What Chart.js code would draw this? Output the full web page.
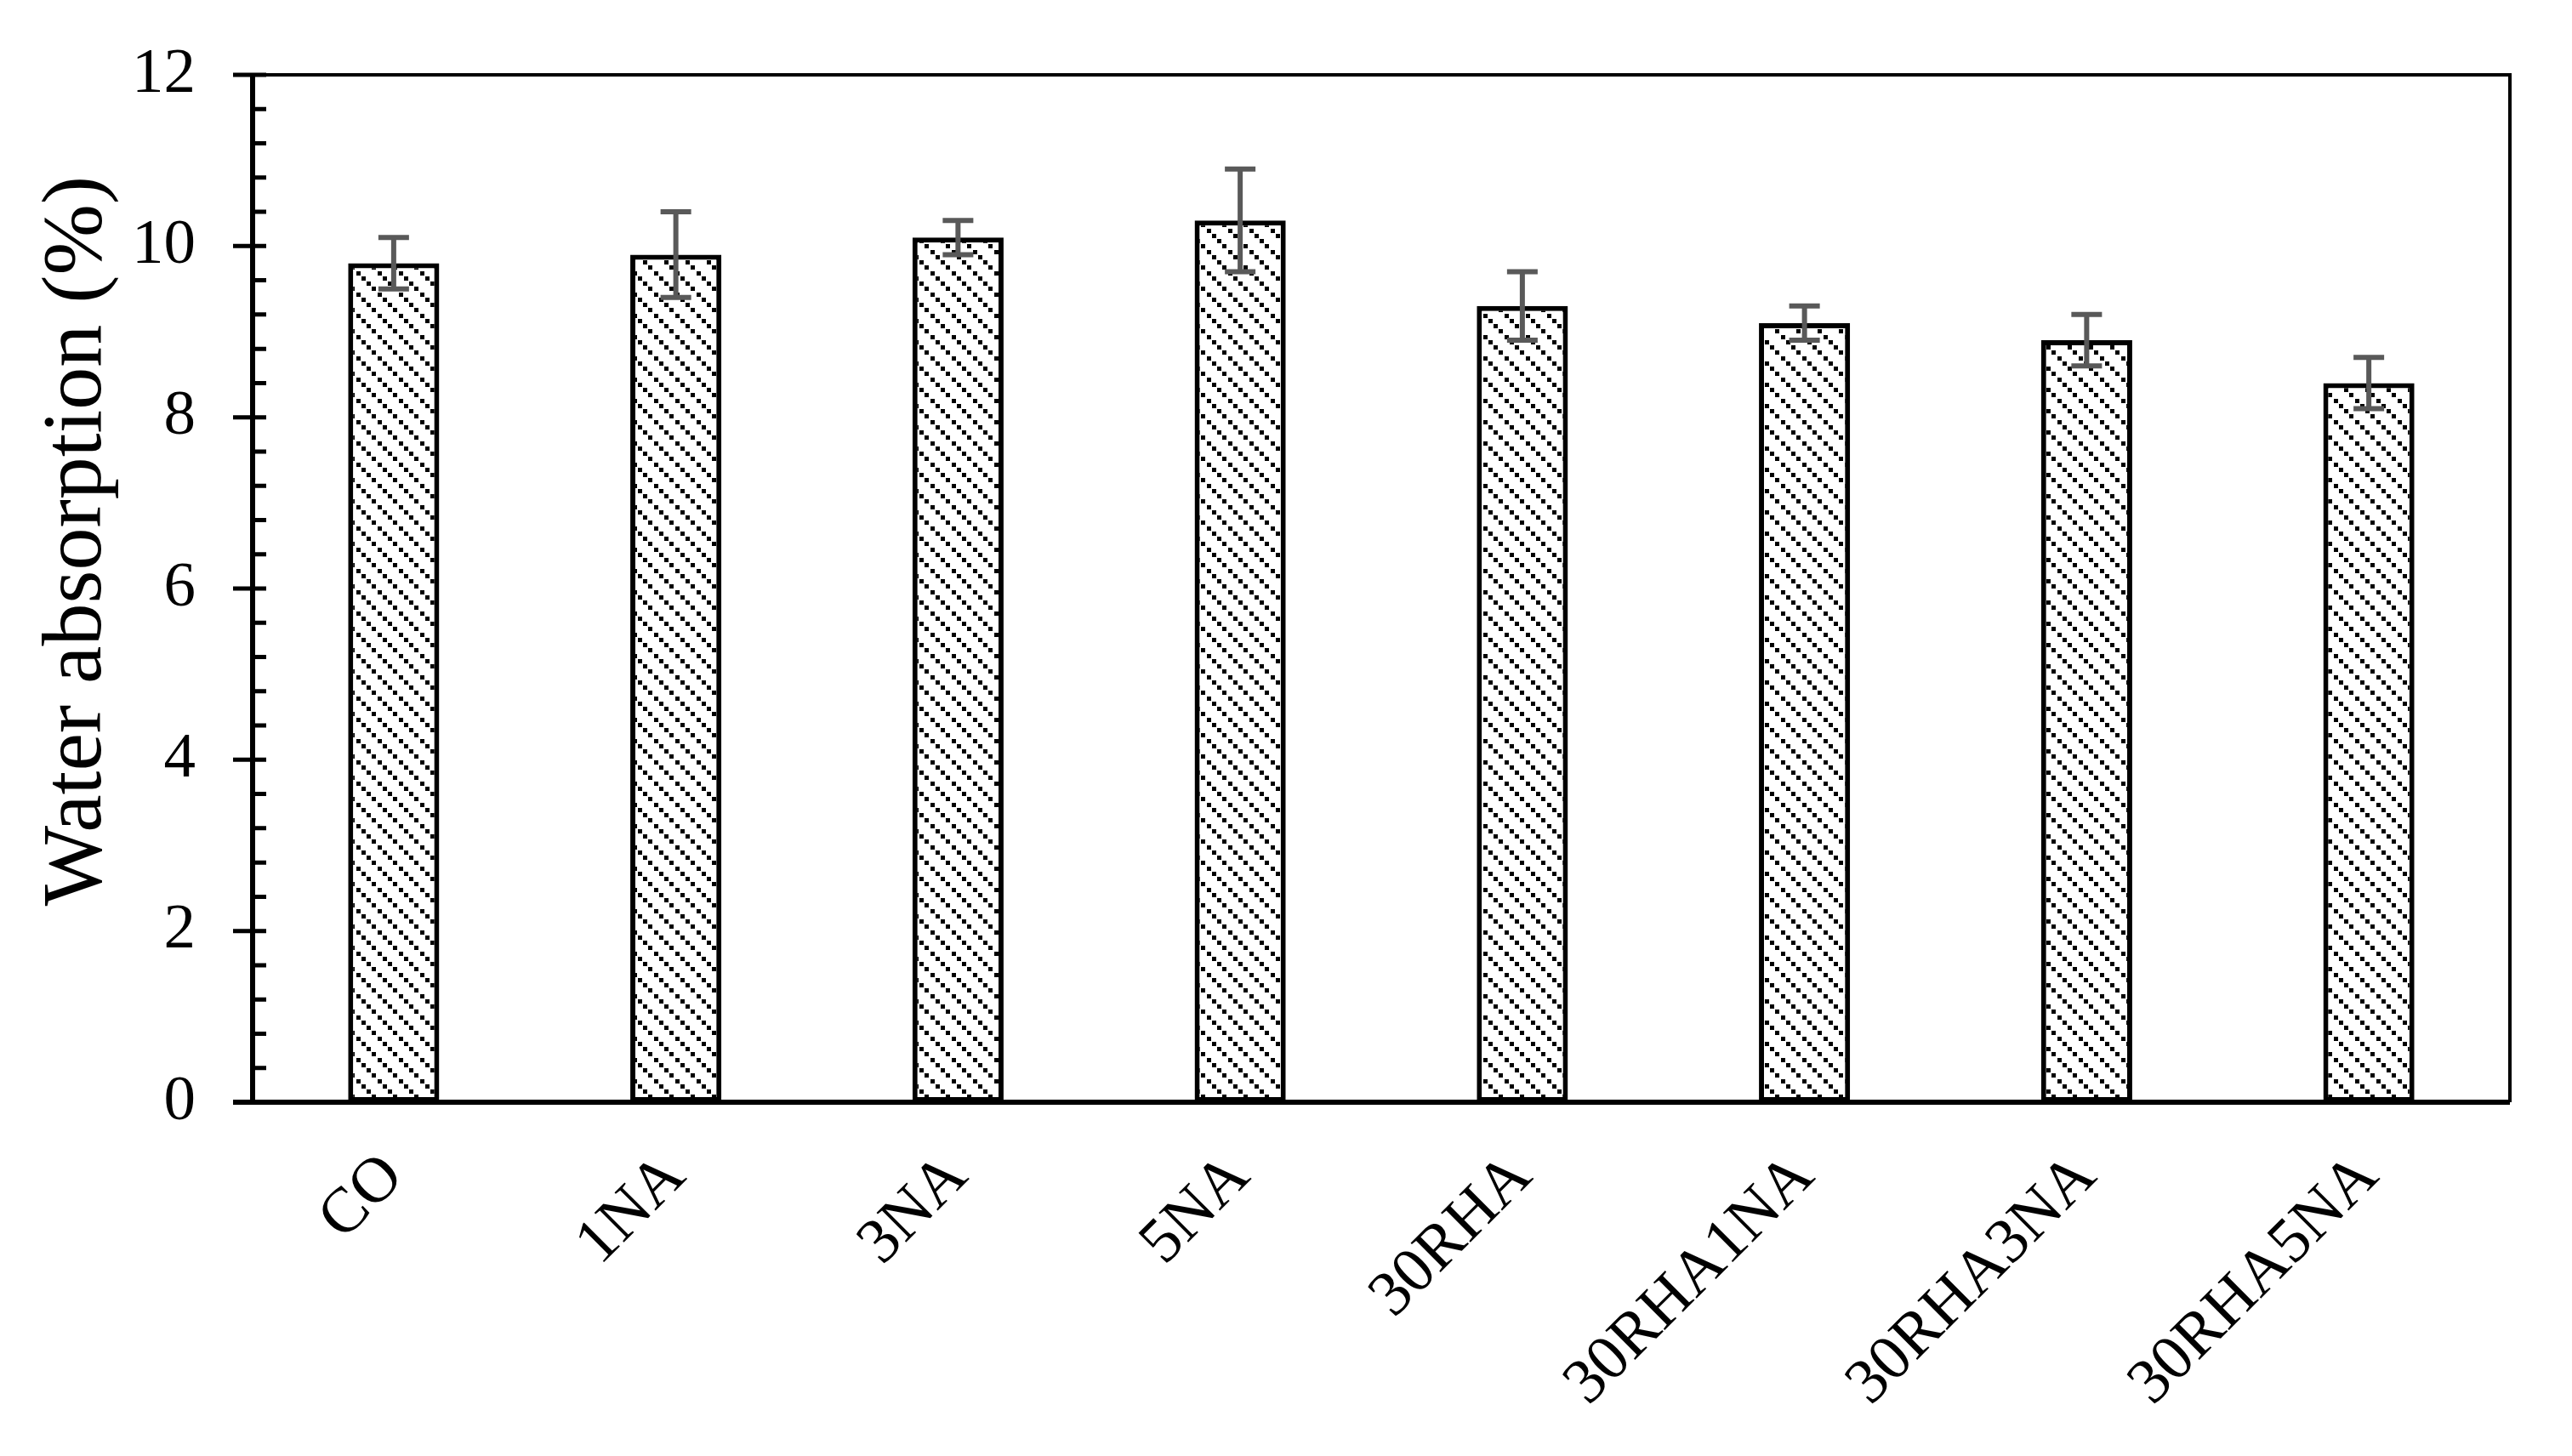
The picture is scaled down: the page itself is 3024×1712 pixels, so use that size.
<!DOCTYPE html>
<html>
<head>
<meta charset="utf-8">
<title>Water absorption</title>
<script src="https://cdn.jsdelivr.net/npm/chart.js@4.4.1/dist/chart.umd.min.js"></script>
<style>
    html, body { margin: 0; padding: 0; background: #ffffff; }
    #wrap { width: 3024px; height: 1712px; position: relative; }
</style>
</head>
<body>
<div id="wrap"><canvas id="bar-chart-absorption"></canvas></div>
<script>
const categories = ["CO", "1NA", "3NA", "5NA", "30RHA", "30RHA1NA", "30RHA3NA", "30RHA5NA"];
const absorption = [9.8, 9.9, 10.1, 10.3, 9.3, 9.1, 8.9, 8.4];
const absorptionError = [0.3, 0.5, 0.2, 0.6, 0.4, 0.2, 0.3, 0.3];
const yTickValues = [0, 2, 4, 6, 8, 10, 12];
const yMinorStep = 0.4;
const yTitle = "Water absorption (%)";

(function () {
    const serif = '"Liberation Serif", "Times New Roman", serif';

    function MakeHatch() {
        // dotted downward diagonal, like the office pattern fill
        let tile = document.createElement("canvas");
        tile.width = 25;
        tile.height = 25;
        let c = tile.getContext("2d");
        c.fillStyle = "#ffffff";
        c.fillRect(0, 0, 25, 25);
        c.fillStyle = "#000000";
        [0, 6, 12, 19].forEach(function (p) {
            c.fillRect(p, p, 5, 5);
        });
        return c.createPattern(tile, "repeat");
    }

    let errorBars = {
        id: "errorBars",
        afterDatasetsDraw: function (chart) {
            let ctx = chart.ctx;
            let y = chart.scales.y;
            let meta = chart.getDatasetMeta(0);
            ctx.save();
            ctx.strokeStyle = "#595959";
            ctx.lineWidth = 6;
            meta.data.forEach(function (bar, i) {
                let top = y.getPixelForValue(absorption[i] + absorptionError[i]);
                let bottom = y.getPixelForValue(absorption[i] - absorptionError[i]);
                ctx.beginPath();
                ctx.moveTo(bar.x, top);
                ctx.lineTo(bar.x, bottom);
                ctx.moveTo(bar.x - 18, top);
                ctx.lineTo(bar.x + 18, top);
                ctx.moveTo(bar.x - 18, bottom);
                ctx.lineTo(bar.x + 18, bottom);
                ctx.stroke();
            });
            ctx.restore();
        }
    }

    let frame = {
        id: "frame",
        afterDraw: function (chart) {
            let ctx = chart.ctx;
            let area = chart.chartArea;
            let y = chart.scales.y;
            ctx.save();
            ctx.strokeStyle = "#000000";

            // top and right border
            ctx.lineWidth = 4;
            ctx.beginPath();
            ctx.moveTo(area.left, area.top);
            ctx.lineTo(area.right, area.top);
            ctx.lineTo(area.right, area.bottom);
            ctx.stroke();

            // axes
            ctx.lineWidth = 6;
            ctx.beginPath();
            ctx.moveTo(area.left, area.top);
            ctx.lineTo(area.left, area.bottom);
            ctx.moveTo(area.left - 23, area.bottom);
            ctx.lineTo(area.right, area.bottom);
            ctx.stroke();

            // major ticks cross the axis, minor ticks point inside
            ctx.lineWidth = 5;
            ctx.beginPath();
            yTickValues.forEach(function (v) {
                let py = y.getPixelForValue(v);
                ctx.moveTo(area.left - 23, py);
                ctx.lineTo(area.left + 16, py);
            });
            for (let v = 0; v <= y.max + 1e-9; v += yMinorStep) {
                let py = y.getPixelForValue(v);
                ctx.moveTo(area.left, py);
                ctx.lineTo(area.left + 16, py);
            }
            ctx.stroke();

            // y axis title
            ctx.fillStyle = "#000000";
            ctx.font = "100px " + serif;
            ctx.textAlign = "center";
            ctx.textBaseline = "middle";
            ctx.translate(92, 636);
            ctx.rotate(-Math.PI / 2);
            ctx.fillText(yTitle, 0, 0);
            ctx.restore();
        }
    }

    function GenerateChart() {
        new Chart(document.getElementById("bar-chart-absorption"), {
            type: "bar",
            data: {
                labels: categories,
                datasets: [
                    {
                        label: "Water absorption",
                        data: absorption,
                        backgroundColor: MakeHatch(),
                        borderColor: "#000000",
                        borderWidth: 6,
                        borderSkipped: false,
                        categoryPercentage: 1,
                        barPercentage: 0.323,
                    }
                ]
            },
            options: {
                responsive: true,
                maintainAspectRatio: false,
                animation: false,
                layout: {
                    padding: { top: 88, right: 73, left: 0, bottom: 0 }
                },
                plugins: {
                    legend: { display: false },
                    title: { display: false },
                    tooltip: { enabled: false }
                },
                scales: {
                    x: {
                        grid: { display: false, drawTicks: false },
                        border: { display: false },
                        ticks: {
                            color: "#000000",
                            font: { family: serif, size: 75 },
                            minRotation: 45,
                            maxRotation: 45,
                            padding: 44,
                        },
                        afterFit: function (scale) {
                            scale.height = 416;
                            scale.paddingLeft = 0;
                            scale.paddingRight = 0;
                        }
                    },
                    y: {
                        min: 0,
                        max: 12,
                        grid: { display: false, drawTicks: false },
                        border: { display: false },
                        ticks: {
                            stepSize: 2,
                            color: "#000000",
                            font: { family: serif, size: 75 },
                            padding: 67,
                        },
                        afterFit: function (scale) {
                            scale.width = 297;
                            scale.paddingTop = 0;
                            scale.paddingBottom = 0;
                        }
                    }
                }
            },
            plugins: [errorBars, frame]
        });
    }

    GenerateChart();
})();
</script>
</body>
</html>
